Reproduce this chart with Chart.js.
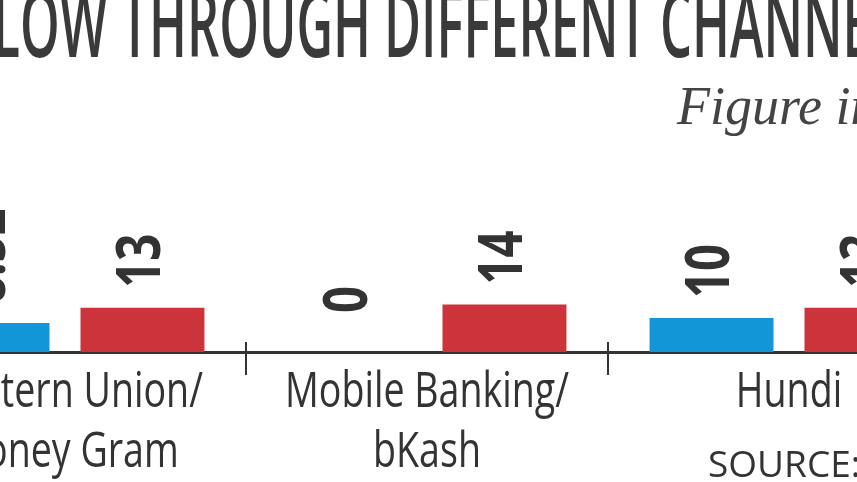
<!DOCTYPE html>
<html>
<head>
<meta charset="utf-8">
<script src="https://cdn.jsdelivr.net/npm/chart.js@4"></script>
<style>
  html, body { margin: 0; padding: 0; background: #fff; }
  #wrap { position: relative; width: 857px; height: 482px; overflow: hidden; background: #fff; }
  #chartBox { position: absolute; left: -116px; top: 0; width: 1086px; height: 482px; }
  .txt { position: absolute; white-space: nowrap; color: #3a3a3a; }
  #title { top: -41px; font: 600 92px 'Open Sans', sans-serif; transform-origin: 0 0; }
  #subtitle { left: 677px; top: 75px; font: italic 54px 'Liberation Serif', serif; color: #444; }
  #source { left: 708px; top: 437px; font: 37px 'Open Sans', sans-serif; color: #333; }
</style>
</head>
<body>
<div id="wrap">
  <div id="chartBox"><canvas id="remitChart" width="1086" height="482"></canvas></div>
  <div id="title" class="txt">REMITTANCE FLOW THROUGH DIFFERENT CHANNELS</div>
  <div id="subtitle" class="txt">Figure in %</div>
  <div id="source" class="txt">SOURCE: SURVEY</div>
</div>
<script>
// 資料
const channels = [['Western Union/', 'Money Gram'], ['Mobile Banking/', 'bKash'], ['Hundi']];
const seriesNames = ['Series A', 'Series B'];
const blueValues = [8.52, 0, 10];
const redValues = [13, 14, 13];

const FONT = "'Open Sans', sans-serif";
const LABEL_FONT = '500 50px ' + FONT;
const VALUE_FONT = 'bold 60px ' + FONT;

// 量字寬，用來把字壓窄（原圖是窄體字）
const measureCtx = document.createElement('canvas').getContext('2d');
function textWidth(font, str) {
    measureCtx.font = font;
    return measureCtx.measureText(str).width;
}
const labelSqueeze = 284 / textWidth(LABEL_FONT, 'Mobile Banking/');
const valueSqueeze = 54 / textWidth(VALUE_FONT, '13');

// 標題：讓 "LOW THROUGH ... CHANN" 落在畫面上的位置
function placeTitle() {
    const el = document.getElementById('title');
    const f = '600 92px ' + FONT;
    const prefix = textWidth(f, 'REMITTANCE F');
    const shown = textWidth(f, 'LOW THROUGH DIFFERENT CHANN');
    const s = 850 / shown;
    el.style.transform = `scaleX(${s})`;
    el.style.left = (-8 - prefix * s) + 'px';
}
placeTitle();

// 長條上方的旋轉數值
const valueLabels = {
    id: 'valueLabels',
    afterDatasetsDraw(chart) {
        const ctx = chart.ctx;
        chart.data.datasets.forEach((ds, di) => {
            chart.getDatasetMeta(di).data.forEach((bar, i) => {
                const v = ds.data[i];
                ctx.save();
                ctx.translate(bar.x, bar.y - (v === 0 ? 39 : 20));
                ctx.rotate(-Math.PI / 2);
                ctx.scale(valueSqueeze, 1);
                ctx.font = VALUE_FONT;
                ctx.fillStyle = '#333';
                ctx.textAlign = 'left';
                ctx.textBaseline = 'middle';
                ctx.fillText(String(v), 0, 0);
                ctx.restore();
            });
        });
    }
};

// 類別名稱（壓窄）與類別之間的分隔刻度
const categoryAxis = {
    id: 'categoryAxis',
    afterDraw(chart) {
        const x = chart.scales.x;
        const y = chart.chartArea.bottom;
        const ctx = chart.ctx;
        ctx.save();
        ctx.strokeStyle = '#333';
        ctx.lineWidth = 2;
        for (let i = 0; i <= channels.length; i++) {
            const px = x.getPixelForValue(i - 0.5);
            ctx.beginPath();
            ctx.moveTo(px, y - 10);
            ctx.lineTo(px, y + 23);
            ctx.stroke();
        }
        ctx.font = LABEL_FONT;
        ctx.fillStyle = '#333';
        ctx.textAlign = 'center';
        ctx.textBaseline = 'alphabetic';
        chart.data.labels.forEach((lines, i) => {
            const cx = x.getPixelForValue(i);
            lines.forEach((line, j) => {
                ctx.save();
                ctx.translate(cx, y + 55 + j * 60);
                ctx.scale(labelSqueeze, 1);
                ctx.fillText(line, 0, 0);
                ctx.restore();
            });
        });
        ctx.restore();
    }
};

new Chart(document.getElementById('remitChart'), {
    type: 'bar',
    data: {
        labels: channels,
        datasets: [
            { label: seriesNames[0], data: blueValues, backgroundColor: '#1396d8' },
            { label: seriesNames[1], data: redValues, backgroundColor: '#cd333b' }
        ]
    },
    options: {
        responsive: false,
        animation: false,
        devicePixelRatio: 1,
        categoryPercentage: 0.856,
        barPercentage: 0.8,
        layout: { padding: { top: 148, left: 0, right: 0, bottom: 0 } },
        plugins: {
            legend: { display: false },
            tooltip: { enabled: false }
        },
        scales: {
            x: {
                afterFit: (scale) => { scale.height = 130; },
                grid: { display: false, drawTicks: false },
                border: { display: true, color: '#333', width: 3 },
                ticks: { display: false }
            },
            y: {
                display: false,
                min: 0,
                max: 60
            }
        }
    },
    plugins: [valueLabels, categoryAxis]
});
</script>
</body>
</html>
